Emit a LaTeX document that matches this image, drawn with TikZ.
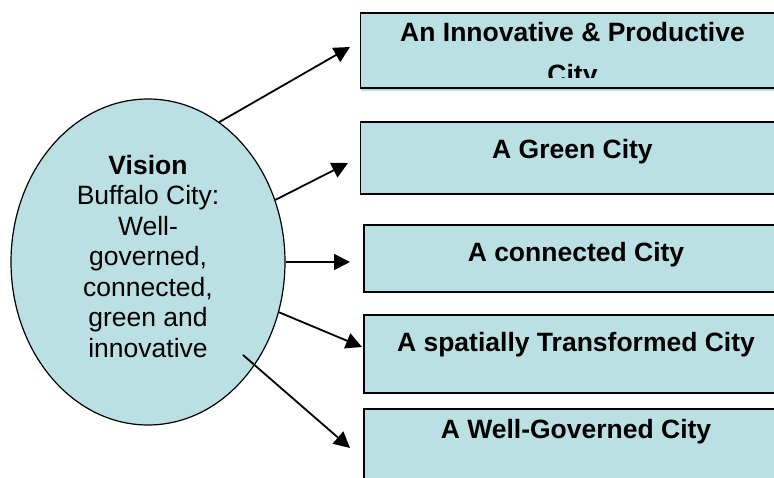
\documentclass[tikz,border=0pt]{standalone}
\usepackage{fontspec}
\setmainfont{Liberation Sans}
\usetikzlibrary{arrows.meta,shapes.geometric}
\definecolor{visionblue}{RGB}{187,224,227}
\tikzset{
  citybox/.style={draw=black, line width=1.5pt, fill=visionblue, rectangle, anchor=north west, outer sep=0pt,
    minimum width=424pt, inner ysep=0pt, font=\bfseries\fontsize{26.5}{42}\selectfont},
  goal/.style={-{Triangle[length=16pt,width=16pt]}, line width=1.8pt}
}
\begin{document}
\begin{tikzpicture}[x=1pt, y=-1pt]
\useasboundingbox (0,0) rectangle (774,478);
\node (vision) at (148,262) [ellipse, draw=black, line width=1.2pt, fill=visionblue, minimum width=274pt, minimum height=326pt, inner sep=0pt, align=center, font=\fontsize{26.5}{30.5}\selectfont] {\textbf{Vision}\\Buffalo City:\\Well-\\governed,\\connected,\\green and\\innovative\rule[-12pt]{0pt}{0pt}};
\node (innov) at (360.5,13) [citybox, text height=29pt, text depth=46pt] {\parbox[t]{400pt}{\centering An Innovative \& Productive\\City}};
\node (green) at (360.5,122) [citybox, text height=37pt, text depth=35pt] {A Green City};
\node (connected) at (364,225) [citybox, text height=37pt, text depth=30pt] {A connected City};
\node (spatial) at (364,315) [citybox, text height=37pt, text depth=41pt] {A spatially Transformed City};
\node (governed) at (364,409) [citybox, text height=29pt, text depth=46pt] {A Well-Governed City};

% second line of the top box is cut off
\fill[visionblue] ([xshift=0.8pt,yshift=-3pt]innov.south west) rectangle ([yshift=10pt]innov.south east);
\draw[line width=1.5pt] (innov.south west) -- (innov.south east);

\draw [goal] (vision.63) -- ([xshift=-10.5pt,yshift=3.5pt]innov.west);
\draw [goal] (vision.26) -- ([xshift=-12.5pt,yshift=-5pt]green.west);
\draw [goal] (vision.0) -- ([xshift=-14pt,yshift=-3.5pt]connected.west);
\draw [goal] (vision.-21) -- ([xshift=-2pt,yshift=7pt]spatial.west);
\draw [goal] ([xshift=95pt,yshift=-93pt]vision.center) -- ([xshift=-14pt,yshift=-1.5pt]governed.west);
\end{tikzpicture}
\end{document}
